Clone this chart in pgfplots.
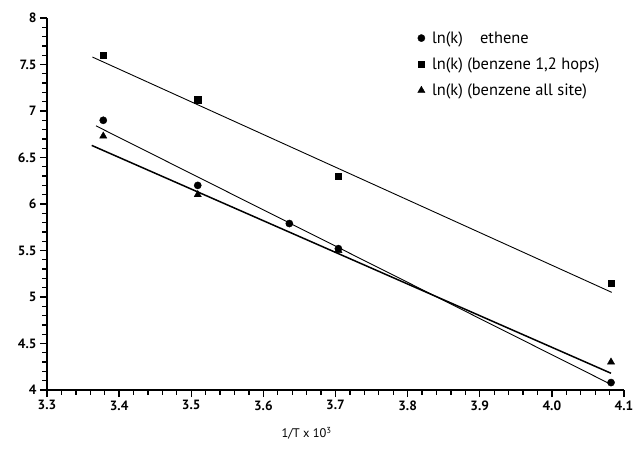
\documentclass[border=0pt]{standalone}
\usepackage{fontspec}
\setmainfont{PT Sans}
\usepackage{pgfplots}
\pgfplotsset{compat=1.18}

\begin{document}
\begin{tikzpicture}
\begin{axis}[
  scale only axis, width=577bp, height=372bp,
  xmin=3.3, xmax=4.1, ymin=4, ymax=8,
  axis lines=left, axis line style={-, line width=1.8bp},
  xtick={3.3,3.4,3.5,3.6,3.7,3.8,3.9,4.0,4.1},
  xticklabels={3.3,3.4,3.5,3.6,3.7,3.8,3.9,4.0,4.1},
  ytick={4,4.5,5,5.5,6,6.5,7,7.5,8},
  yticklabels={4,4.5,5,5.5,6,6.5,7,7.5,8},
  minor x tick num=4, minor y tick num=4,
  tick align=outside,
  major tick length=7bp, minor tick length=4.5bp,
  tick style={black, line width=1.3bp},
  ticklabel style={font=\fontsize{13.5}{16}\selectfont\bfseries},
  xlabel={1/T x 10\textsuperscript{3}},
  xlabel style={font=\fontsize{12.5}{14}\selectfont, at={(axis description cs:0.45,0)}, anchor=north, yshift=-34bp},
  legend style={draw=none, fill=none, font=\fontsize{16.5}{19}\selectfont,
    at={(rel axis cs:0.637,0.975)}, anchor=north west, row sep=9bp,
    /tikz/every odd column/.append style={column sep=5bp}},
  legend cell align=left,
]
% fitted lines
\addplot[black, line width=0.9bp, forget plot] coordinates {(3.363,7.58) (4.083,5.05)};
\addplot[black, line width=0.9bp, forget plot] coordinates {(3.368,6.84) (4.082,4.06)};
\addplot[black, line width=1.5bp, forget plot] coordinates {(3.362,6.63) (4.082,4.18)};
% data
\addplot[only marks, mark=*, mark size=3.6bp, black] coordinates {
  (3.378,6.90) (3.509,6.20) (3.636,5.79) (3.704,5.52) (4.082,4.08)};
\addlegendentry{ln(k)\hspace{1.05em}ethene}
\addplot[only marks, mark=square*, mark size=3.2bp, black] coordinates {
  (3.378,7.60) (3.509,7.12) (3.704,6.30) (4.082,5.15)};
\addlegendentry{ln(k) (benzene 1,2 hops)}
\addplot[only marks, mark=triangle*, mark size=4.2bp, black] coordinates {
  (3.378,6.73) (3.509,6.10) (3.704,5.50) (4.082,4.30)};
\addlegendentry{ln(k) (benzene all site)}
\end{axis}
\pgfresetboundingbox
\path (-47bp,-70bp) rectangle (588bp,390bp);
\end{tikzpicture}
\end{document}
